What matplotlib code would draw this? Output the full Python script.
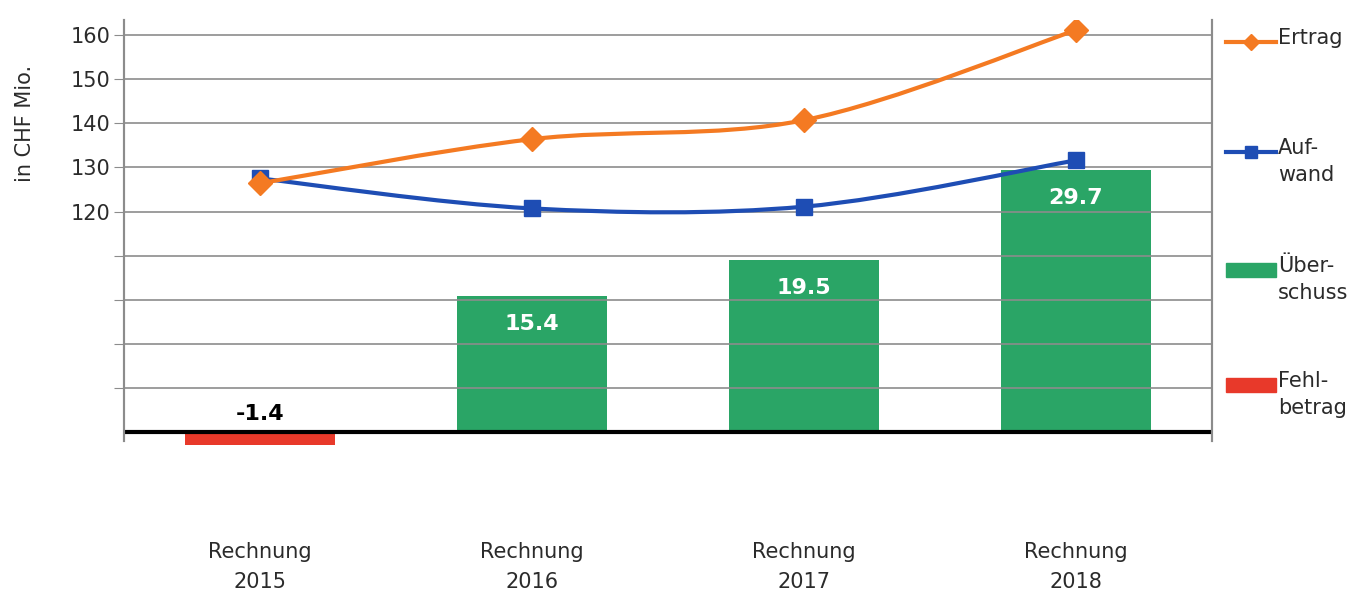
import numpy as np
import matplotlib
matplotlib.use('agg')
import matplotlib.pyplot as plt
from matplotlib.path import Path
from matplotlib.patches import PathPatch, Rectangle
from matplotlib.lines import Line2D

plt.rcParams['font.family'] = ['DejaVu Sans']

# data
categories = ['Rechnung\n2015', 'Rechnung\n2016', 'Rechnung\n2017', 'Rechnung\n2018']
ertrag = [126.4, 136.4, 140.7, 161.1]
aufwand = [127.5, 120.7, 121.1, 131.6]
saldo = [-1.4, 15.4, 19.5, 29.7]
saldo_labels = ['-1.4', '15.4', '19.5', '29.7']
line_ticks = [120, 130, 140, 150, 160]

c_ertrag = '#F47A22'
c_aufwand = '#1E4DB4'
c_plus = '#2AA566'
c_minus = '#E8392A'
c_grid = '#8C8C8C'
c_text = '#2B2B2B'


def smooth_path(xs, ys):
    # catmull-rom style bezier, like excel's smoothed lines
    pts = np.column_stack([xs, ys]).astype(float)
    ext = np.vstack([pts[0], pts, pts[-1]])
    verts = [pts[0]]
    codes = [Path.MOVETO]
    for i in range(len(pts) - 1):
        p0, p1, p2, p3 = ext[i], ext[i + 1], ext[i + 2], ext[i + 3]
        verts += [p1 + (p2 - p0) / 6, p2 - (p3 - p1) / 6, p2]
        codes += [Path.CURVE4] * 3
    return Path(verts, codes)


fig = plt.figure(figsize=(13.62, 6.01), dpi=100)
ax = fig.add_axes([124 / 1362, 1 - 441 / 601, 1088 / 1362, 421 / 601])
ax2 = ax.twinx()

x = np.arange(len(categories))

# bars on the primary axis (0 at baseline, 5 per gridline)
bar_lo, bar_hi = -1.0, 46.7
ax.set_ylim(bar_lo, bar_hi)
ax.set_xlim(-0.5, 3.5)
cols = [c_minus if v < 0 else c_plus for v in saldo]
ax.bar(x, saldo, width=0.555, color=cols, zorder=2, clip_on=False)
for xi, v, lab in zip(x, saldo, saldo_labels):
    if v < 0:
        ax.text(xi, 0.9, lab, ha='center', va='bottom', fontsize=16, fontweight='bold', color='black')
    else:
        ax.text(xi, v - 3.2, lab, ha='center', va='center', fontsize=16, fontweight='bold', color='white')

ax.axhline(0, color='black', lw=3, zorder=3)
ax.set_yticks([])
ax.set_xticks(x)
ax.set_xticklabels(categories, fontsize=15, color=c_text, linespacing=1.6)
ax.tick_params(axis='x', length=0, pad=73)

# lines on the secondary axis: line = 120 + (bar - 25) * 2
ax2.set_ylim(120 + (bar_lo - 25) * 2, 120 + (bar_hi - 25) * 2)
ax2.yaxis.tick_left()
ax2.yaxis.set_label_position('left')
ax2.set_yticks(np.arange(80, 161, 10))
ax2.set_yticklabels([str(t) if t in line_ticks else '' for t in np.arange(80, 161, 10)],
                    fontsize=15, color=c_text)
ax2.tick_params(axis='y', length=7, color=c_grid, pad=3)
ax2.grid(axis='y', color=c_grid, lw=1.2)
ax2.set_ylabel('in CHF Mio.', fontsize=15, color=c_text)
ax2.yaxis.set_label_coords(-0.082, 0.755)

ax2.add_patch(PathPatch(smooth_path(x, aufwand), fill=False, ec=c_aufwand, lw=3, zorder=4))
ax2.plot(x, aufwand, ls='none', marker='s', ms=11, color=c_aufwand, zorder=5)
ax2.add_patch(PathPatch(smooth_path(x, ertrag), fill=False, ec=c_ertrag, lw=3, zorder=6))
ax2.plot(x, ertrag, ls='none', marker='D', ms=12, color=c_ertrag, zorder=7)

for a in (ax, ax2):
    a.spines['top'].set_visible(False)
    a.spines['bottom'].set_visible(False)
    for s in ('left', 'right'):
        a.spines[s].set_visible(True)
        a.spines[s].set_color(c_grid)
        a.spines[s].set_linewidth(1.5)
        a.spines[s].set_zorder(5)
ax.set_zorder(1)
ax2.set_zorder(2)
ax2.patch.set_visible(False)
ax.patch.set_visible(False)

# legend, drawn by hand to keep handles on the first text line
ft = fig.transFigure
W, H = 1362, 601
entries = [
    ('line', c_ertrag, 'D', 'Ertrag', 42),
    ('line', c_aufwand, 's', 'Auf-\nwand', 152),
    ('box', c_plus, None, 'Über-\nschuss', 270),
    ('box', c_minus, None, 'Fehl-\nbetrag', 385),
]
for kind, col, mk, lab, yp in entries:
    yf = 1 - yp / H
    if kind == 'line':
        fig.add_artist(Line2D([1226 / W, 1276 / W], [yf, yf], color=col, lw=3, transform=ft))
        fig.add_artist(Line2D([1251 / W], [yf], color=col, marker=mk, ms=8, transform=ft))
    else:
        fig.add_artist(Rectangle((1226 / W, yf - 7 / H), 50 / W, 14 / H, color=col, transform=ft))
    fig.text(1278 / W, yf + 14 / H, lab, ha='left', va='top', fontsize=15, color=c_text,
             linespacing=1.45)

plt.savefig('out.png', dpi=100)
